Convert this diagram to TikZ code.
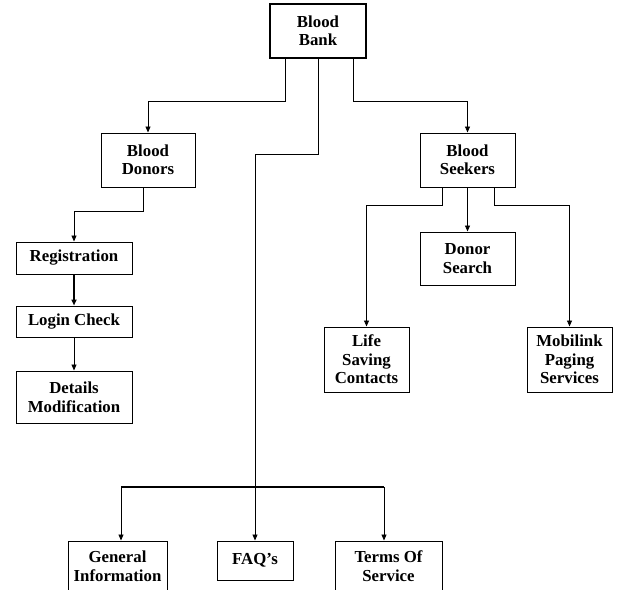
\documentclass[tikz,border=0pt]{standalone}
\usepackage{fontspec}
\setmainfont{Liberation Serif}
\usetikzlibrary{arrows.meta}
\begin{document}
\begin{tikzpicture}[x=1pt,y=-1pt,
  box/.style={draw, line width=1pt, align=center, inner sep=0pt,
    font=\fontsize{16.8}{18.5}\selectfont\bfseries},
  link/.style={line width=0.9pt},
  arr/.style={link, -{Triangle[length=6pt,width=5pt]}}]
\useasboundingbox (0,0) rectangle (629,589);
\clip (0,0) rectangle (629,589);

% boxes
\node[box, line width=1.15pt, minimum width=96pt, minimum height=54pt] (bank) at (318,31) {Blood\\Bank};
\node[box, minimum width=94pt, minimum height=54pt] (donors) at (148,160) {Blood\\Donors};
\node[box, minimum width=95pt, minimum height=54pt] (seekers) at (467.5,160) {Blood\\Seekers};
\node[box, minimum width=116pt, minimum height=32pt] (reg) at (74,258) {Registration};
\node[box, minimum width=116pt, minimum height=31pt] (login) at (74,321.5) {Login Check};
\node[box, minimum width=116pt, minimum height=52pt] (details) at (74,397) {Details\\Modification};
\node[box, minimum width=95pt, minimum height=53pt] (search) at (467.5,258.5) {Donor\\Search};
\node[box, minimum width=85pt, minimum height=65pt] (life) at (366.5,359.5) {Life\\Saving\\Contacts};
\node[box, minimum width=85pt, minimum height=65pt] (mobi) at (569.5,359.5) {Mobilink\\Paging\\Services};
\node[box, minimum width=99pt, minimum height=50pt] (general) at (117.5,566) {General\\Information};
\node[box, minimum width=76pt, minimum height=39pt] (faq) at (255,560.5) {FAQ’s};
\node[box, minimum width=107pt, minimum height=50pt] (terms) at (388.5,566) {Terms Of\\Service};

% top level links
\draw[arr] ([xshift=-33pt]bank.south) |- (donors.north |- 0,101) -- (donors.north);
\draw[arr] ([xshift=35pt]bank.south) |- (seekers.north |- 0,101) -- (seekers.north);
\draw[arr] (bank.south) |- (faq.north |- 0,154) -- (faq.north);

% information pages
\coordinate (gtop) at ([xshift=3.5pt]general.north);
\coordinate (ttop) at ([xshift=-4.5pt]terms.north);
\draw[line width=2pt] (gtop |- 0,487) -- (ttop |- 0,487);
\draw[arr] (gtop |- 0,487) -- (gtop);
\draw[arr] (ttop |- 0,487) -- (ttop);

% donor branch
\draw[arr] ([xshift=-5pt]donors.south) |- (reg.north |- 0,211) -- (reg.north);
\draw[arr, line width=1.6pt] (reg) -- (login);
\draw[arr] (login) -- (details);

% seeker branch
\draw[arr] ([xshift=-25.5pt]seekers.south) |- (life.north |- 0,205) -- (life.north);
\draw[arr] (seekers) -- (search);
\draw[arr] ([xshift=26.5pt]seekers.south) |- (mobi.north |- 0,205) -- (mobi.north);
\end{tikzpicture}
\end{document}
